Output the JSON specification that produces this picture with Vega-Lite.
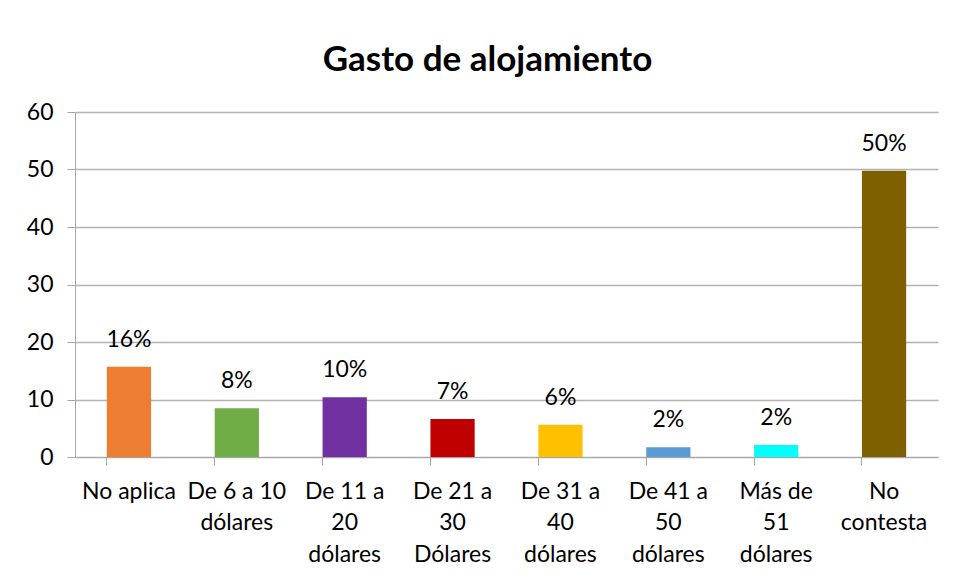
{
  "$schema": "https://vega.github.io/schema/vega-lite/v6.json",
  "width": 863,
  "height": 345,
  "autosize": "none",
  "padding": {"left": 75, "top": 112, "right": 16, "bottom": 124},
  "background": "white",
  "title": {
    "text": "Gasto de alojamiento",
    "font": "Lato",
    "fontSize": 35,
    "fontWeight": "bold",
    "color": "#000000",
    "anchor": "middle",
    "offset": 23,
    "dx": -19
  },
  "data": {
    "values": [
      {"categoria": "No aplica", "valor": 15.7, "etiqueta": "16%", "color": "#ED7D31"},
      {"categoria": "De 6 a 10\ndólares", "valor": 8.5, "etiqueta": "8%", "color": "#70AD47"},
      {"categoria": "De 11 a\n20\ndólares", "valor": 10.4, "etiqueta": "10%", "color": "#7030A0"},
      {"categoria": "De 21 a\n30\nDólares", "valor": 6.6, "etiqueta": "7%", "color": "#C00000"},
      {"categoria": "De 31 a\n40\ndólares", "valor": 5.6, "etiqueta": "6%", "color": "#FFC000"},
      {"categoria": "De 41 a\n50\ndólares", "valor": 1.7, "etiqueta": "2%", "color": "#5B9BD5"},
      {"categoria": "Más de\n51\ndólares", "valor": 2.1, "etiqueta": "2%", "color": "#00FFFF"},
      {"categoria": "No\ncontesta", "valor": 49.8, "etiqueta": "50%", "color": "#7F6000"}
    ]
  },
  "encoding": {
    "x": {
      "field": "categoria",
      "type": "nominal",
      "sort": null,
      "scale": {"paddingInner": 0.59, "paddingOuter": 0.295},
      "axis": {
        "title": null,
        "labelAngle": 0,
        "labelExpr": "split(datum.label, '\\n')",
        "labelFont": "Lato",
        "labelFontSize": 23,
        "labelColor": "#000000",
        "labelLineHeight": 31.5,
        "labelPadding": 15,
        "labelLimit": 200,
        "bandPosition": 0,
        "ticks": true,
        "tickSize": 8,
        "tickColor": "#A6A6A6",
        "domainColor": "#A6A6A6",
        "grid": false
      }
    },
    "y": {
      "field": "valor",
      "type": "quantitative",
      "scale": {"domain": [0, 60]},
      "axis": {
        "title": null,
        "values": [0, 10, 20, 30, 40, 50, 60],
        "labelFont": "Lato",
        "labelFontSize": 23,
        "labelColor": "#000000",
        "labelPadding": 14,
        "tickSize": 8,
        "tickColor": "#A6A6A6",
        "domainColor": "#A6A6A6",
        "gridColor": "#B3B3B3",
        "gridWidth": 1.3
      }
    }
  },
  "layer": [
    {
      "mark": {"type": "bar"},
      "encoding": {
        "color": {"field": "color", "type": "nominal", "scale": null, "legend": null}
      }
    },
    {
      "mark": {"type": "text", "baseline": "middle", "dy": -27, "font": "Lato", "fontSize": 23, "color": "#000000"},
      "encoding": {
        "text": {"field": "etiqueta", "type": "nominal"}
      }
    }
  ],
  "config": {
    "view": {"stroke": null}
  }
}
